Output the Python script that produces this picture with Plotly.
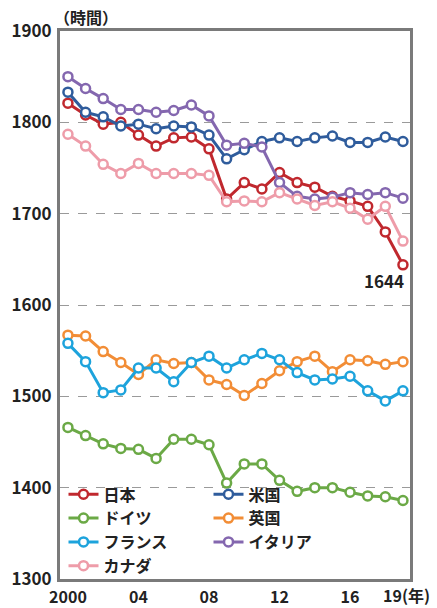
import plotly.graph_objects as go

# Annual hours actually worked per worker
years = list(range(2000, 2020))

japan = [1821, 1808, 1798, 1800, 1786, 1774, 1783, 1784, 1771, 1716,
         1734, 1727, 1745, 1734, 1729, 1719, 1714, 1708, 1680, 1644]
usa = [1833, 1811, 1806, 1796, 1798, 1793, 1796, 1795, 1786, 1760,
       1770, 1779, 1783, 1779, 1783, 1785, 1778, 1778, 1784, 1779]
germany = [1466, 1457, 1448, 1443, 1442, 1432, 1453, 1453, 1447, 1405,
           1426, 1426, 1408, 1396, 1400, 1400, 1395, 1391, 1390, 1386]
uk = [1567, 1566, 1549, 1537, 1524, 1540, 1536, 1537, 1518, 1513,
      1501, 1514, 1528, 1538, 1544, 1527, 1540, 1539, 1535, 1538]
france = [1558, 1538, 1504, 1507, 1531, 1531, 1516, 1537, 1544, 1531,
          1540, 1547, 1540, 1526, 1518, 1519, 1522, 1506, 1495, 1506]
italy = [1850, 1837, 1826, 1814, 1814, 1811, 1813, 1819, 1807, 1775,
         1777, 1773, 1734, 1719, 1716, 1718, 1723, 1721, 1723, 1717]
canada = [1787, 1774, 1754, 1744, 1755, 1744, 1744, 1744, 1742, 1713,
          1714, 1713, 1723, 1716, 1709, 1713, 1706, 1694, 1708, 1670]

series_names = ["日本", "米国", "ドイツ", "英国", "フランス", "イタリア", "カナダ"]
series_values = [japan, usa, germany, uk, france, italy, canada]
series_colors = ["#C0282E", "#2F5C9C", "#6BA946", "#F28D36",
                 "#1DA3DC", "#8467AF", "#EE9CA9"]

x_tick_vals = [2000, 2004, 2008, 2012, 2016]
x_tick_text = ["2000", "04", "08", "12", "16"]
last_tick_text = "19(年)"
y_tick_vals = [1300, 1400, 1500, 1600, 1700, 1800, 1900]
y_tick_text = ["1300", "1400", "1500", "1600", "1700", "1800", "1900"]

FONT = "Noto Sans CJK JP"

fig = go.Figure()
for name, vals, col in zip(series_names, series_values, series_colors):
    fig.add_trace(go.Scatter(
        x=years, y=vals, name=name, mode="lines+markers",
        line=dict(color=col, width=3),
        marker=dict(symbol="circle", size=9, color="white",
                    line=dict(color=col, width=2.5)),
    ))

# value label for the final Japan point
fig.add_annotation(x=years[-1], y=japan[-1], text=str(japan[-1]),
                   showarrow=False, xshift=-19, yshift=-16,
                   font=dict(family=FONT, size=17, color="#222", weight="bold"))

# last x tick label with unit
fig.add_annotation(x=years[-1], y=0, yref="paper", text=last_tick_text,
                   showarrow=False, xanchor="left", yanchor="top",
                   xshift=-21, yshift=-3, borderpad=0,
                   font=dict(family=FONT, size=16, color="#222", weight="bold"))

# y-axis unit
fig.add_annotation(x=0, y=1, xref="paper", yref="paper", text="（時間）",
                   showarrow=False, xanchor="left", yanchor="bottom",
                   xshift=-8, yshift=0,
                   font=dict(family=FONT, size=16, color="#222", weight="bold"))

fig.update_layout(
    width=437, height=608,
    margin=dict(l=60, r=27, t=31, b=29, autoexpand=False),
    paper_bgcolor="white", plot_bgcolor="white",
    font=dict(family=FONT, color="#222"),
    showlegend=True,
    legend=dict(
        orientation="h", x=0.01, y=-0.008, xanchor="left", yanchor="bottom",
        entrywidth=100, entrywidthmode="pixels",
        font=dict(family=FONT, size=16, color="#222", weight="bold"),
        bgcolor="rgba(0,0,0,0)", tracegroupgap=0,
    ),
    xaxis=dict(
        range=[1999.55, 2019.4], automargin=False,
        tickmode="array", tickvals=x_tick_vals, ticktext=x_tick_text,
        showgrid=False, zeroline=False,
        showline=True, mirror=True, linewidth=3, linecolor="#7A7A7A",
        ticks="", ticklabelstandoff=2,
        tickfont=dict(family=FONT, size=16, color="#222", weight="bold"),
    ),
    yaxis=dict(
        range=[1300, 1900], automargin=False,
        tickmode="array", tickvals=y_tick_vals, ticktext=y_tick_text,
        showgrid=True, gridcolor="#9A9A9A", griddash="dash", gridwidth=1.2,
        zeroline=False,
        showline=True, mirror=True, linewidth=3, linecolor="#7A7A7A",
        ticks="", ticklabelstandoff=2,
        tickfont=dict(family=FONT, size=17, color="#222", weight="bold"),
    ),
)

fig.write_html("out.html")
